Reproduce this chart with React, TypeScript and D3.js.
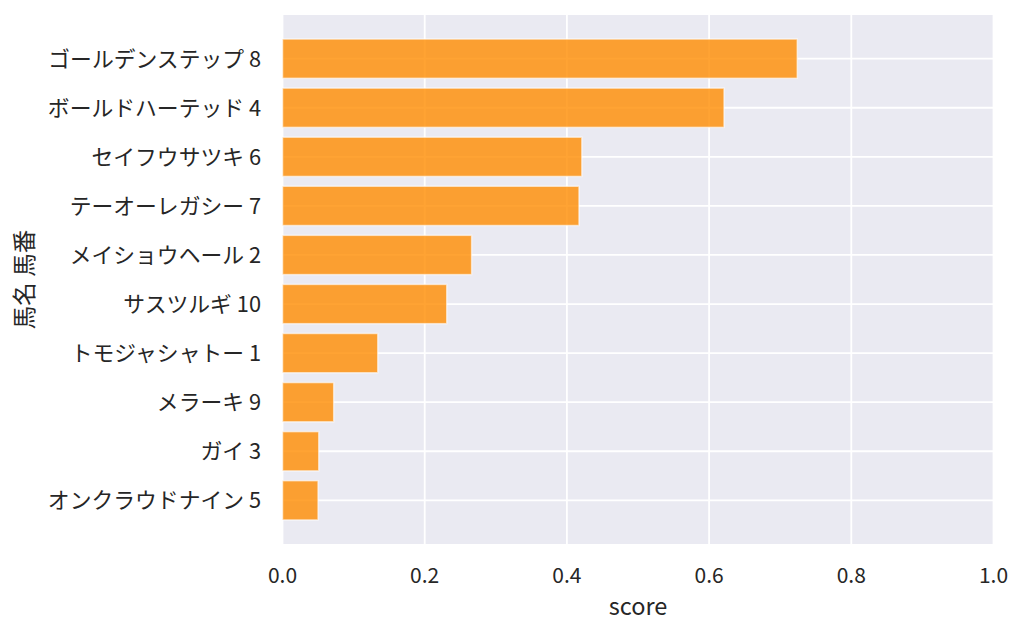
import React, { useEffect, useRef } from 'react';
import * as d3 from 'd3';

const horses = [
  'ゴールデンステップ 8',
  'ボールドハーテッド 4',
  'セイフウサツキ 6',
  'テーオーレガシー 7',
  'メイショウヘール 2',
  'サスツルギ 10',
  'トモジャシャトー 1',
  'メラーキ 9',
  'ガイ 3',
  'オンクラウドナイン 5',
];
const scores = [0.724, 0.621, 0.421, 0.417, 0.266, 0.231, 0.134, 0.072, 0.051, 0.05];
const xTicks = [0, 0.2, 0.4, 0.6, 0.8, 1.0];

const width = 1024;
const height = 634;
const margin = { top: 15, right: 30.5, bottom: 90, left: 282.5 };
const font = '"Noto Sans CJK JP", "Noto Sans", sans-serif';
const textColor = '#262626';
const tickSize = 21;
const nameSize = 21.8;
const labelSize = 23.5;

const App: React.FC = () => {
  const ref = useRef<SVGSVGElement | null>(null);

  useEffect(() => {
    if (!ref.current) return;
    const svg = d3.select(ref.current).html('');

    const x = d3
      .scaleLinear()
      .domain([0, 1])
      .range([margin.left, width - margin.right]);

    // matplotlib barh: bars 0.8 tall plus 5% margins
    const n = horses.length;
    const pad = (n - 1 + 0.8) * 0.05;
    const y = d3
      .scaleLinear()
      .domain([-0.4 - pad, n - 1 + 0.4 + pad])
      .range([margin.top, height - margin.bottom]);

    svg
      .append('rect')
      .attr('x', margin.left)
      .attr('y', margin.top)
      .attr('width', width - margin.left - margin.right)
      .attr('height', height - margin.top - margin.bottom)
      .attr('fill', '#EAEAF2');

    // grid
    svg
      .append('g')
      .selectAll('line')
      .data(xTicks)
      .enter()
      .append('line')
      .attr('x1', (d) => x(d))
      .attr('x2', (d) => x(d))
      .attr('y1', margin.top)
      .attr('y2', height - margin.bottom)
      .attr('stroke', '#fff')
      .attr('stroke-width', 1.8);

    svg
      .append('g')
      .selectAll('line')
      .data(horses)
      .enter()
      .append('line')
      .attr('x1', margin.left)
      .attr('x2', width - margin.right)
      .attr('y1', (_, i) => y(i))
      .attr('y2', (_, i) => y(i))
      .attr('stroke', '#fff')
      .attr('stroke-width', 1.8);

    // bars
    svg
      .append('g')
      .selectAll('rect')
      .data(scores)
      .enter()
      .append('rect')
      .attr('x', x(0))
      .attr('y', (_, i) => y(i - 0.4))
      .attr('width', (d) => x(d) - x(0))
      .attr('height', y(0.4) - y(-0.4))
      .attr('fill', '#FF8C00')
      .attr('fill-opacity', 0.8)
      .attr('stroke', '#fff')
      .attr('stroke-opacity', 0.6)
      .attr('stroke-width', 1.5);

    // y tick labels
    svg
      .append('g')
      .selectAll('text')
      .data(horses)
      .enter()
      .append('text')
      .attr('x', margin.left - 21.5)
      .attr('y', (_, i) => y(i))
      .attr('dy', '0.36em')
      .attr('text-anchor', 'end')
      .attr('font-family', font)
      .attr('font-size', nameSize)
      .attr('fill', textColor)
      .text((d) => d);

    // x tick labels
    svg
      .append('g')
      .selectAll('text')
      .data(xTicks)
      .enter()
      .append('text')
      .attr('x', (d) => x(d))
      .attr('y', 583)
      .attr('text-anchor', 'middle')
      .attr('font-family', font)
      .attr('font-size', tickSize)
      .attr('fill', textColor)
      .text((d) => d3.format('.1f')(d));

    // axis labels
    svg
      .append('text')
      .attr('x', (margin.left + width - margin.right) / 2)
      .attr('y', 615)
      .attr('text-anchor', 'middle')
      .attr('font-family', font)
      .attr('font-size', labelSize)
      .attr('fill', textColor)
      .text('score');

    svg
      .append('text')
      .attr('transform', `translate(25, ${(margin.top + height - margin.bottom) / 2}) rotate(-90)`)
      .attr('dy', '0.36em')
      .attr('text-anchor', 'middle')
      .attr('font-family', font)
      .attr('font-size', labelSize)
      .attr('fill', textColor)
      .text('馬名 馬番');
  }, []);

  return (
    <svg
      ref={ref}
      width={width}
      height={height}
      style={{ position: 'absolute', left: 0, top: 0, background: '#fff' }}
    ></svg>
  );
};

export default App;
